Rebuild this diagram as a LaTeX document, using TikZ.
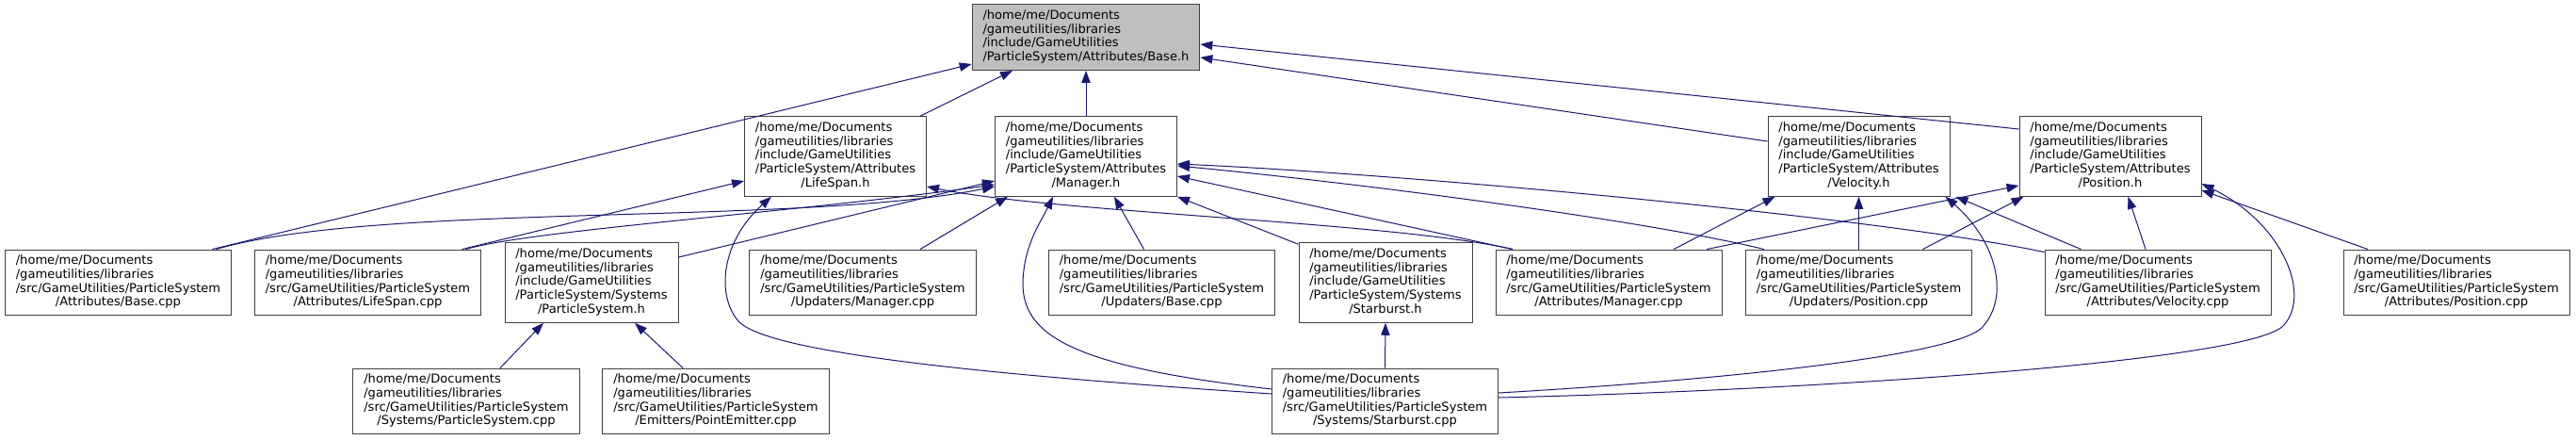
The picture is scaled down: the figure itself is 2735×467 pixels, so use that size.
\documentclass[tikz,border=0pt]{standalone}
\usepackage{fontspec}
\newfontfamily\dejavu{DejaVu Sans}
\usepackage{tikz}
\usetikzlibrary{
    arrows.meta,
    calc
}
\definecolor{edgeblue}{HTML}{191970}
\definecolor{rootgray}{HTML}{BFBFBF}
\definecolor{boxline}{HTML}{404040}

% common path prefixes
\newcommand{\incpre}{/home/me/Documents\\/gameutilities/libraries\\/include/GameUtilities}
\newcommand{\srcpre}{/home/me/Documents\\/gameutilities/libraries\\/src/GameUtilities/ParticleSystem}
% left aligned lines, last line centred
\newcommand{\fpath}[2]{\begin{tabular}{@{}l@{}}#1\\\multicolumn{1}{@{}c@{}}{#2}\end{tabular}}

\tikzset{
    filebox/.style={draw=boxline, fill=white, line width=0.75pt, inner xsep=8.5pt, inner ysep=4.2pt,
        font=\dejavu\fontsize{9.8pt}{11pt}\selectfont},
    rootbox/.style={filebox, fill=rootgray},
    incl/.style={draw=edgeblue, line width=0.75pt, -{Triangle[length=9.75pt,width=7pt]}}
}

\begin{document}
\begin{tikzpicture}[x=0.75pt, y=-0.75pt]
        \useasboundingbox[fill=white] (0,0) rectangle (2735,467);

        % Root header
        \node[rootbox] (basehdr) at (1153,39.5) {\fpath{\incpre}{/ParticleSystem/Attributes/Base.h}};

        % Attribute headers
        \node[filebox] (lifehdr) at (887,166) {\fpath{\incpre\\/ParticleSystem/Attributes}{/LifeSpan.h}};
        \node[filebox] (mgrhdr) at (1153,166) {\fpath{\incpre\\/ParticleSystem/Attributes}{/Manager.h}};
        \node[filebox] (velhdr) at (1973.5,166) {\fpath{\incpre\\/ParticleSystem/Attributes}{/Velocity.h}};
        \node[filebox] (poshdr) at (2240.5,166) {\fpath{\incpre\\/ParticleSystem/Attributes}{/Position.h}};

        % Middle row
        \node[filebox] (basecpp) at (125.5,300) {\fpath{\srcpre}{/Attributes/Base.cpp}};
        \node[filebox] (lifecpp) at (390.5,300) {\fpath{\srcpre}{/Attributes/LifeSpan.cpp}};
        \node[filebox] (pshdr) at (628,300) {\fpath{\incpre\\/ParticleSystem/Systems}{/ParticleSystem.h}};
        \node[filebox] (updmgr) at (916,300) {\fpath{\srcpre}{/Updaters/Manager.cpp}};
        \node[filebox] (updbase) at (1233.5,300) {\fpath{\srcpre}{/Updaters/Base.cpp}};
        \node[filebox] (starhdr) at (1471,300) {\fpath{\incpre\\/ParticleSystem/Systems}{/Starburst.h}};
        \node[filebox] (mgrcpp) at (1708,300) {\fpath{\srcpre}{/Attributes/Manager.cpp}};
        \node[filebox] (updpos) at (1973.5,300) {\fpath{\srcpre}{/Updaters/Position.cpp}};
        \node[filebox] (velcpp) at (2291,300) {\fpath{\srcpre}{/Attributes/Velocity.cpp}};
        \node[filebox] (poscpp) at (2608,300) {\fpath{\srcpre}{/Attributes/Position.cpp}};

        % Bottom row
        \node[filebox] (pscpp) at (495,426) {\fpath{\srcpre}{/Systems/ParticleSystem.cpp}};
        \node[filebox] (emitcpp) at (760,426) {\fpath{\srcpre}{/Emitters/PointEmitter.cpp}};
        \node[filebox] (starcpp) at (1470.5,426) {\fpath{\srcpre}{/Systems/Starburst.cpp}};

        % Bends of the long curves
        \coordinate (lifebend) at (785,342);
        \coordinate (mgrbend) at (1086,300);
        \coordinate (velbend) at (2104,348);
        \coordinate (posbend) at (2425,345);

        % Includes of Base.h
        \draw[incl] ($(basecpp.north)+(100,0)$) -- ($(basehdr.west)+(0,28.5)$);
        \draw[incl] ($(lifehdr.north)+(90,0)$) -- ($(basehdr.south)+(-78,0)$);
        \draw[incl] (mgrhdr.north) -- (basehdr.south);
        \draw[incl] ($(velhdr.west)+(0,-16)$) -- ($(basehdr.east)+(0,21.5)$);
        \draw[incl] ($(poshdr.west)+(0,-29)$) -- ($(basehdr.east)+(0,7.5)$);

        % Includes of LifeSpan.h
        \draw[incl] ($(lifecpp.north)+(100,0)$) -- ($(lifehdr.west)+(0,26)$);
        \draw[incl] ($(mgrcpp.north)+(-102,0)$) .. controls +(-126,-29) and +(137,28) .. ($(lifehdr.east)+(0,32)$);
        \draw[incl] ($(starcpp.west)+(0,-8)$) .. controls +(-300,-20) and +(35,33) .. (lifebend)
            .. controls +(-25,-27) and +(-54,48) .. ($(lifehdr.south)+(-68,0)$);

        % Includes of Manager.h
        \draw[incl] ($(basecpp.north)+(104,0)$) .. controls +(170,-50) and +(-207,42) .. ($(mgrhdr.west)+(0,32)$);
        \draw[incl] ($(lifecpp.north)+(104,0)$) .. controls +(66,-20) and +(-207,29) .. ($(mgrhdr.west)+(0,30)$);
        \draw[incl] ($(pshdr.east)+(0,-27)$) -- ($(mgrhdr.west)+(0,26)$);
        \draw[incl] ($(updmgr.north)+(61,0)$) -- ($(mgrhdr.south)+(-83,0)$);
        \draw[incl] ($(starcpp.west)+(0,-13)$) .. controls +(-200,-23) and +(-1,60) .. (mgrbend)
            .. controls +(1,-40) and +(-13,27) .. ($(mgrhdr.south)+(-35,0)$);
        \draw[incl] ($(updbase.north)+(-19,0)$) -- ($(mgrhdr.south)+(30,0)$);
        \draw[incl] ($(starhdr.north west)+(0,2)$) -- (mgrhdr.south east);
        \draw[incl] ($(mgrcpp.north)+(-102,0)$) -- ($(mgrhdr.east)+(0,21)$);
        \draw[incl] ($(updpos.north west)+(20,0)$) .. controls +(-123,-30) and +(200,19) .. ($(mgrhdr.east)+(0,10)$);
        \draw[incl] ($(velcpp.north west)+(0,3)$) .. controls +(-170,-36) and +(250,11) .. ($(mgrhdr.east)+(0,8)$);

        % Includes of Velocity.h
        \draw[incl] ($(mgrcpp.north)+(69,0)$) -- ($(velhdr.south)+(-89,0)$);
        \draw[incl] (updpos.north) -- (velhdr.south);
        \draw[incl] ($(velcpp.north west)+(39,0)$) -- ($(velhdr.south east)+(6,0)$);
        \draw[incl] ($(starcpp.east)+(0,-9)$) .. controls +(209,-12) and +(-34,32) .. (velbend)
            .. controls +(31,-33) and +(54,47) .. ($(velhdr.south)+(92,0)$);

        % Includes of Position.h
        \draw[incl] ($(mgrcpp.north)+(104,0)$) -- ($(poshdr.west)+(0,31)$);
        \draw[incl] ($(updpos.north)+(68,0)$) -- ($(poshdr.south west)+(5,0)$);
        \draw[incl] ($(velcpp.north)+(-13,0)$) -- ($(poshdr.south)+(19,0)$);
        \draw[incl] ($(poscpp.north)+(-94,0)$) -- ($(poshdr.east)+(0,36)$);
        \draw[incl] ($(starcpp.east)+(0,-4)$) .. controls +(309,-7) and +(-35,40) .. (posbend)
            .. controls +(30,-35) and +(83,40) .. ($(poshdr.east)+(0,29)$);

        % Includes of the system headers
        \draw[incl] ($(pscpp.north)+(36,0)$) -- ($(pshdr.south)+(-51,0)$);
        \draw[incl] ($(emitcpp.north)+(-35,0)$) -- ($(pshdr.south)+(46,0)$);
        \draw[incl] (starcpp.north) -- (starhdr.south);
    \end{tikzpicture}
\end{document}
